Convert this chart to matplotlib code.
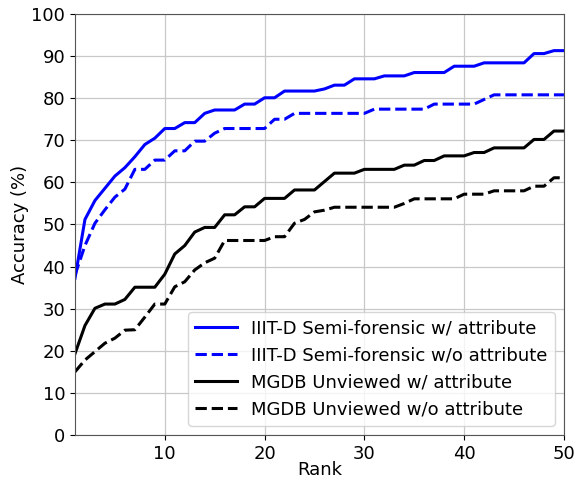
import numpy as np
import matplotlib
matplotlib.use('Agg')
import matplotlib.pyplot as plt

# Rank 1..50
rank = np.arange(1, 51)

# IIIT-D semi-forensic, with attribute
iiitd_w = [37.2, 51.2, 55.7, 58.6, 61.5, 63.5, 66.1, 69.0, 70.5, 72.8,
           72.8, 74.2, 74.2, 76.4, 77.2, 77.2, 77.2, 78.6, 78.6, 80.1,
           80.1, 81.7, 81.7, 81.7, 81.7, 82.2, 83.1, 83.1, 84.6, 84.6,
           84.6, 85.3, 85.3, 85.3, 86.1, 86.1, 86.1, 86.1, 87.6, 87.6,
           87.6, 88.4, 88.4, 88.4, 88.4, 88.4, 90.6, 90.6, 91.3, 91.3]

# IIIT-D semi-forensic, without attribute
iiitd_wo = [38.0, 45.0, 50.3, 53.5, 56.5, 58.4, 63.1, 63.1, 65.3, 65.3,
            67.5, 67.5, 69.8, 69.8, 71.7, 72.8, 72.8, 72.8, 72.8, 72.8,
            75.0, 75.0, 76.4, 76.4, 76.4, 76.4, 76.4, 76.4, 76.4, 76.4,
            77.4, 77.4, 77.4, 77.4, 77.4, 77.4, 78.6, 78.6, 78.6, 78.6,
            78.6, 79.7, 80.8, 80.8, 80.8, 80.8, 80.8, 80.8, 80.8, 80.8]

# MGDB unviewed, with attribute
mgdb_w = [19.3, 26.0, 30.1, 31.1, 31.1, 32.2, 35.1, 35.1, 35.1, 38.2,
          43.0, 45.0, 48.2, 49.3, 49.3, 52.3, 52.3, 54.2, 54.2, 56.2,
          56.2, 56.2, 58.2, 58.2, 58.2, 60.2, 62.2, 62.2, 62.2, 63.1,
          63.1, 63.1, 63.1, 64.1, 64.1, 65.2, 65.2, 66.3, 66.3, 66.3,
          67.1, 67.1, 68.2, 68.2, 68.2, 68.2, 70.2, 70.2, 72.2, 72.2]

# MGDB unviewed, without attribute
mgdb_wo = [15.0, 17.8, 19.8, 21.8, 23.0, 24.9, 25.0, 28.0, 31.1, 31.1,
           35.2, 36.4, 39.2, 40.9, 42.0, 46.2, 46.2, 46.2, 46.2, 46.2,
           47.1, 47.1, 50.3, 51.2, 53.0, 53.4, 54.1, 54.1, 54.1, 54.1,
           54.1, 54.1, 54.1, 55.0, 56.1, 56.1, 56.1, 56.1, 56.1, 57.2,
           57.2, 57.2, 58.0, 58.0, 58.0, 58.0, 59.1, 59.1, 61.1, 61.1]

labels = ['IIIT-D Semi-forensic w/ attribute',
          'IIIT-D Semi-forensic w/o attribute',
          'MGDB Unviewed w/ attribute',
          'MGDB Unviewed w/o attribute']

fs = 13

fig = plt.figure(figsize=(5.79, 4.83), dpi=100)
ax = fig.add_axes([0.1295, 0.0994, 0.8445, 0.8716])

ax.plot(rank, iiitd_w, color='blue', linestyle='-', linewidth=2.2, label=labels[0])
ax.plot(rank, iiitd_wo, color='blue', linestyle='--', linewidth=2.2, label=labels[1])
ax.plot(rank, mgdb_w, color='black', linestyle='-', linewidth=2.2, label=labels[2])
ax.plot(rank, mgdb_wo, color='black', linestyle='--', linewidth=2.2, label=labels[3])

ax.set_xlim(1, 50)
ax.set_ylim(0, 100)
ax.set_xticks([10, 20, 30, 40, 50])
ax.set_yticks(np.arange(0, 101, 10))
ax.tick_params(labelsize=fs)
ax.grid(True, color='#c8c8c8', linewidth=0.9)
for s in ax.spines.values():
    s.set_color('#555555')

ax.set_xlabel('Rank', fontsize=fs, labelpad=-1)
ax.set_ylabel('Accuracy (%)', fontsize=fs, labelpad=2)
ax.legend(loc='lower right', fontsize=fs, handlelength=2.3)

plt.savefig('out.png', dpi=100)
